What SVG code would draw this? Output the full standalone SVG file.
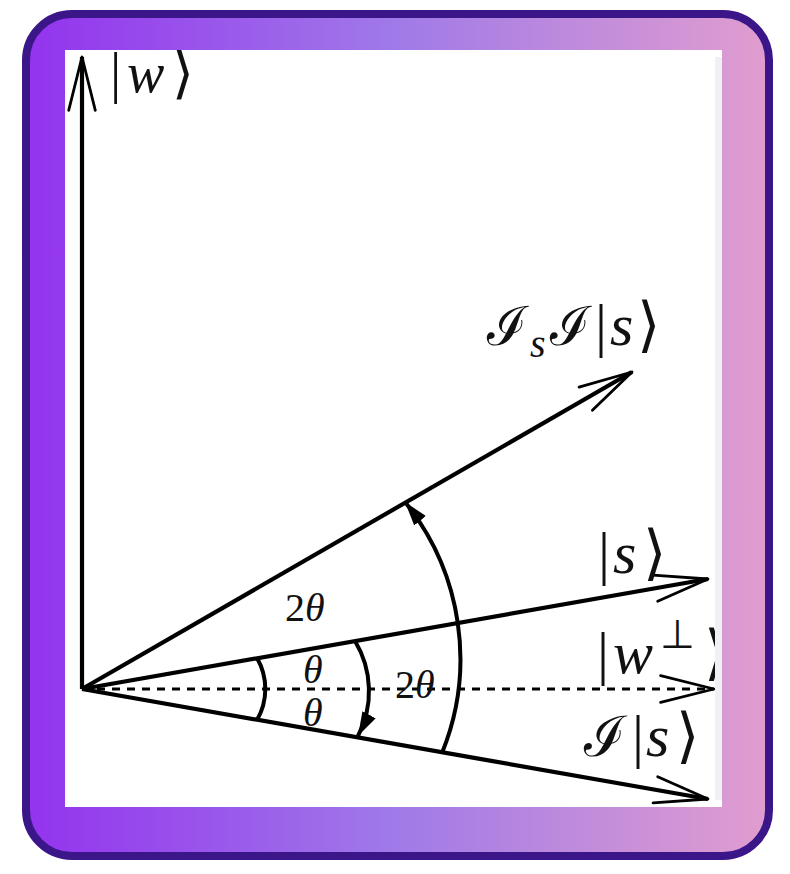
<svg xmlns="http://www.w3.org/2000/svg" width="790" height="874" viewBox="0 0 790 874">
  <defs>
    <linearGradient id="frameGrad" x1="0" y1="0" x2="1" y2="0">
      <stop offset="0" stop-color="#9333ee"/>
      <stop offset="0.5" stop-color="#a07ae8"/>
      <stop offset="1" stop-color="#e19dcf"/>
    </linearGradient>
    <clipPath id="clipInner">
      <rect x="65" y="50" width="650" height="757"/>
    </clipPath>
    <marker id="ah" markerUnits="userSpaceOnUse" markerWidth="26" markerHeight="18" viewBox="0 0 26 18" refX="24" refY="9" orient="auto">
      <path d="M0,1.5 L24,9 L0,16.5 z" fill="#000"/>
    </marker>
    <style>
      .vec { stroke: #000; stroke-width: 4.2; fill: none; stroke-linecap: butt; }
      .head { stroke: #000; stroke-width: 2.8; fill: none; stroke-linecap: round; stroke-linejoin: round; }
      .dash { stroke: #000; stroke-width: 2.8; fill: none; stroke-dasharray: 8 7; }
      .arc { stroke: #000; stroke-width: 4; fill: none; }
      .m { font-family: "Liberation Serif", "DejaVu Serif", serif; fill: #111; }
      .it { font-style: italic; }
      .sym { font-family: "DejaVu Sans", "Liberation Serif", sans-serif; font-weight: 200; }
      .bar { font-family: "Liberation Serif", serif; font-style: normal; }
    </style>
  </defs>

  <!-- frame -->
  <rect x="26" y="14" width="743" height="842" rx="46" ry="46" fill="url(#frameGrad)" stroke="#3b1689" stroke-width="8"/>
  <rect x="65" y="50" width="657" height="757" fill="#ffffff"/>
  <rect x="715" y="57" width="7" height="743" fill="#f0f1f4"/>

  <g clip-path="url(#clipInner)">
    <g id="connectors">
      <!-- |w> axis -->
      <line class="vec" x1="82" y1="689" x2="82" y2="57"/>
      <polyline class="head" points="68.7,110.4 82,57 95.3,110.4"/>
      <!-- I_s I |s> -->
      <line class="vec" x1="82" y1="689" x2="632" y2="372"/>
      <polyline class="head" points="579.1,387.1 632,372 592.4,410.2"/>
      <!-- |s> -->
      <line class="vec" x1="82" y1="689" x2="708" y2="579"/>
      <polyline class="head" points="653.1,575.1 708,579 657.7,601.3"/>
      <!-- |w perp> dashed -->
      <line class="dash" x1="82" y1="689" x2="714" y2="689"/>
      <polyline class="head" points="660.6,675.7 714,689 660.6,702.3"/>
      <!-- I|s> -->
      <line class="vec" x1="82" y1="689" x2="708" y2="799"/>
      <polyline class="head" points="657.7,776.7 708,799 653.1,802.9"/>
      <!-- angle arcs -->
      <path class="arc" d="M257,658 A62,62 0 0 1 257,720"/>
      <path class="arc" d="M355,641 A97,97 0 0 1 358,736" marker-end="url(#ah)"/>
      <path class="arc" d="M442,753 A250,250 0 0 0 405,502" marker-end="url(#ah)"/>
    </g>

    <g id="label-w">
      <text class="m" font-size="56" y="92"><tspan class="bar" x="110">|</tspan><tspan class="it" x="127">w</tspan><tspan class="sym" x="172">⟩</tspan></text>
    </g>
    <g id="label-IsIs">
      <text class="m" font-size="60" y="345"><tspan class="sym" font-size="54" x="487">ℐ</tspan><tspan class="it" font-size="40" x="530" y="357">s</tspan><tspan class="sym" font-size="54" x="550" y="345">ℐ</tspan><tspan class="bar" x="595">|</tspan><tspan class="it" x="610">s</tspan><tspan class="sym" x="637">⟩</tspan></text>
    </g>
    <g id="label-s">
      <text class="m" font-size="60" y="573"><tspan class="bar" x="598">|</tspan><tspan class="it" x="613">s</tspan><tspan class="sym" x="643">⟩</tspan></text>
    </g>
    <g id="label-wperp">
      <text class="m" font-size="60" y="673"><tspan class="bar" x="597">|</tspan><tspan class="it" x="613">w</tspan><tspan class="sym" font-size="40" x="660" y="648">⊥</tspan><tspan class="sym" x="704" y="673">⟩</tspan></text>
    </g>
    <g id="label-Is">
      <text class="m" font-size="60" y="756"><tspan class="sym" font-size="56" x="584">ℐ</tspan><tspan class="bar" x="632">|</tspan><tspan class="it" x="646">s</tspan><tspan class="sym" x="676">⟩</tspan></text>
    </g>
    <g id="label-2theta-upper">
      <text class="m" font-size="40" x="285" y="621">2<tspan class="it">θ</tspan></text>
    </g>
    <g id="label-theta-upper">
      <text class="m it" font-size="40" x="303" y="683">θ</text>
    </g>
    <g id="label-theta-lower">
      <text class="m it" font-size="40" x="303" y="726">θ</text>
    </g>
    <g id="label-2theta-right">
      <text class="m" font-size="40" x="395" y="698">2<tspan class="it">θ</tspan></text>
    </g>
  </g>
</svg>
